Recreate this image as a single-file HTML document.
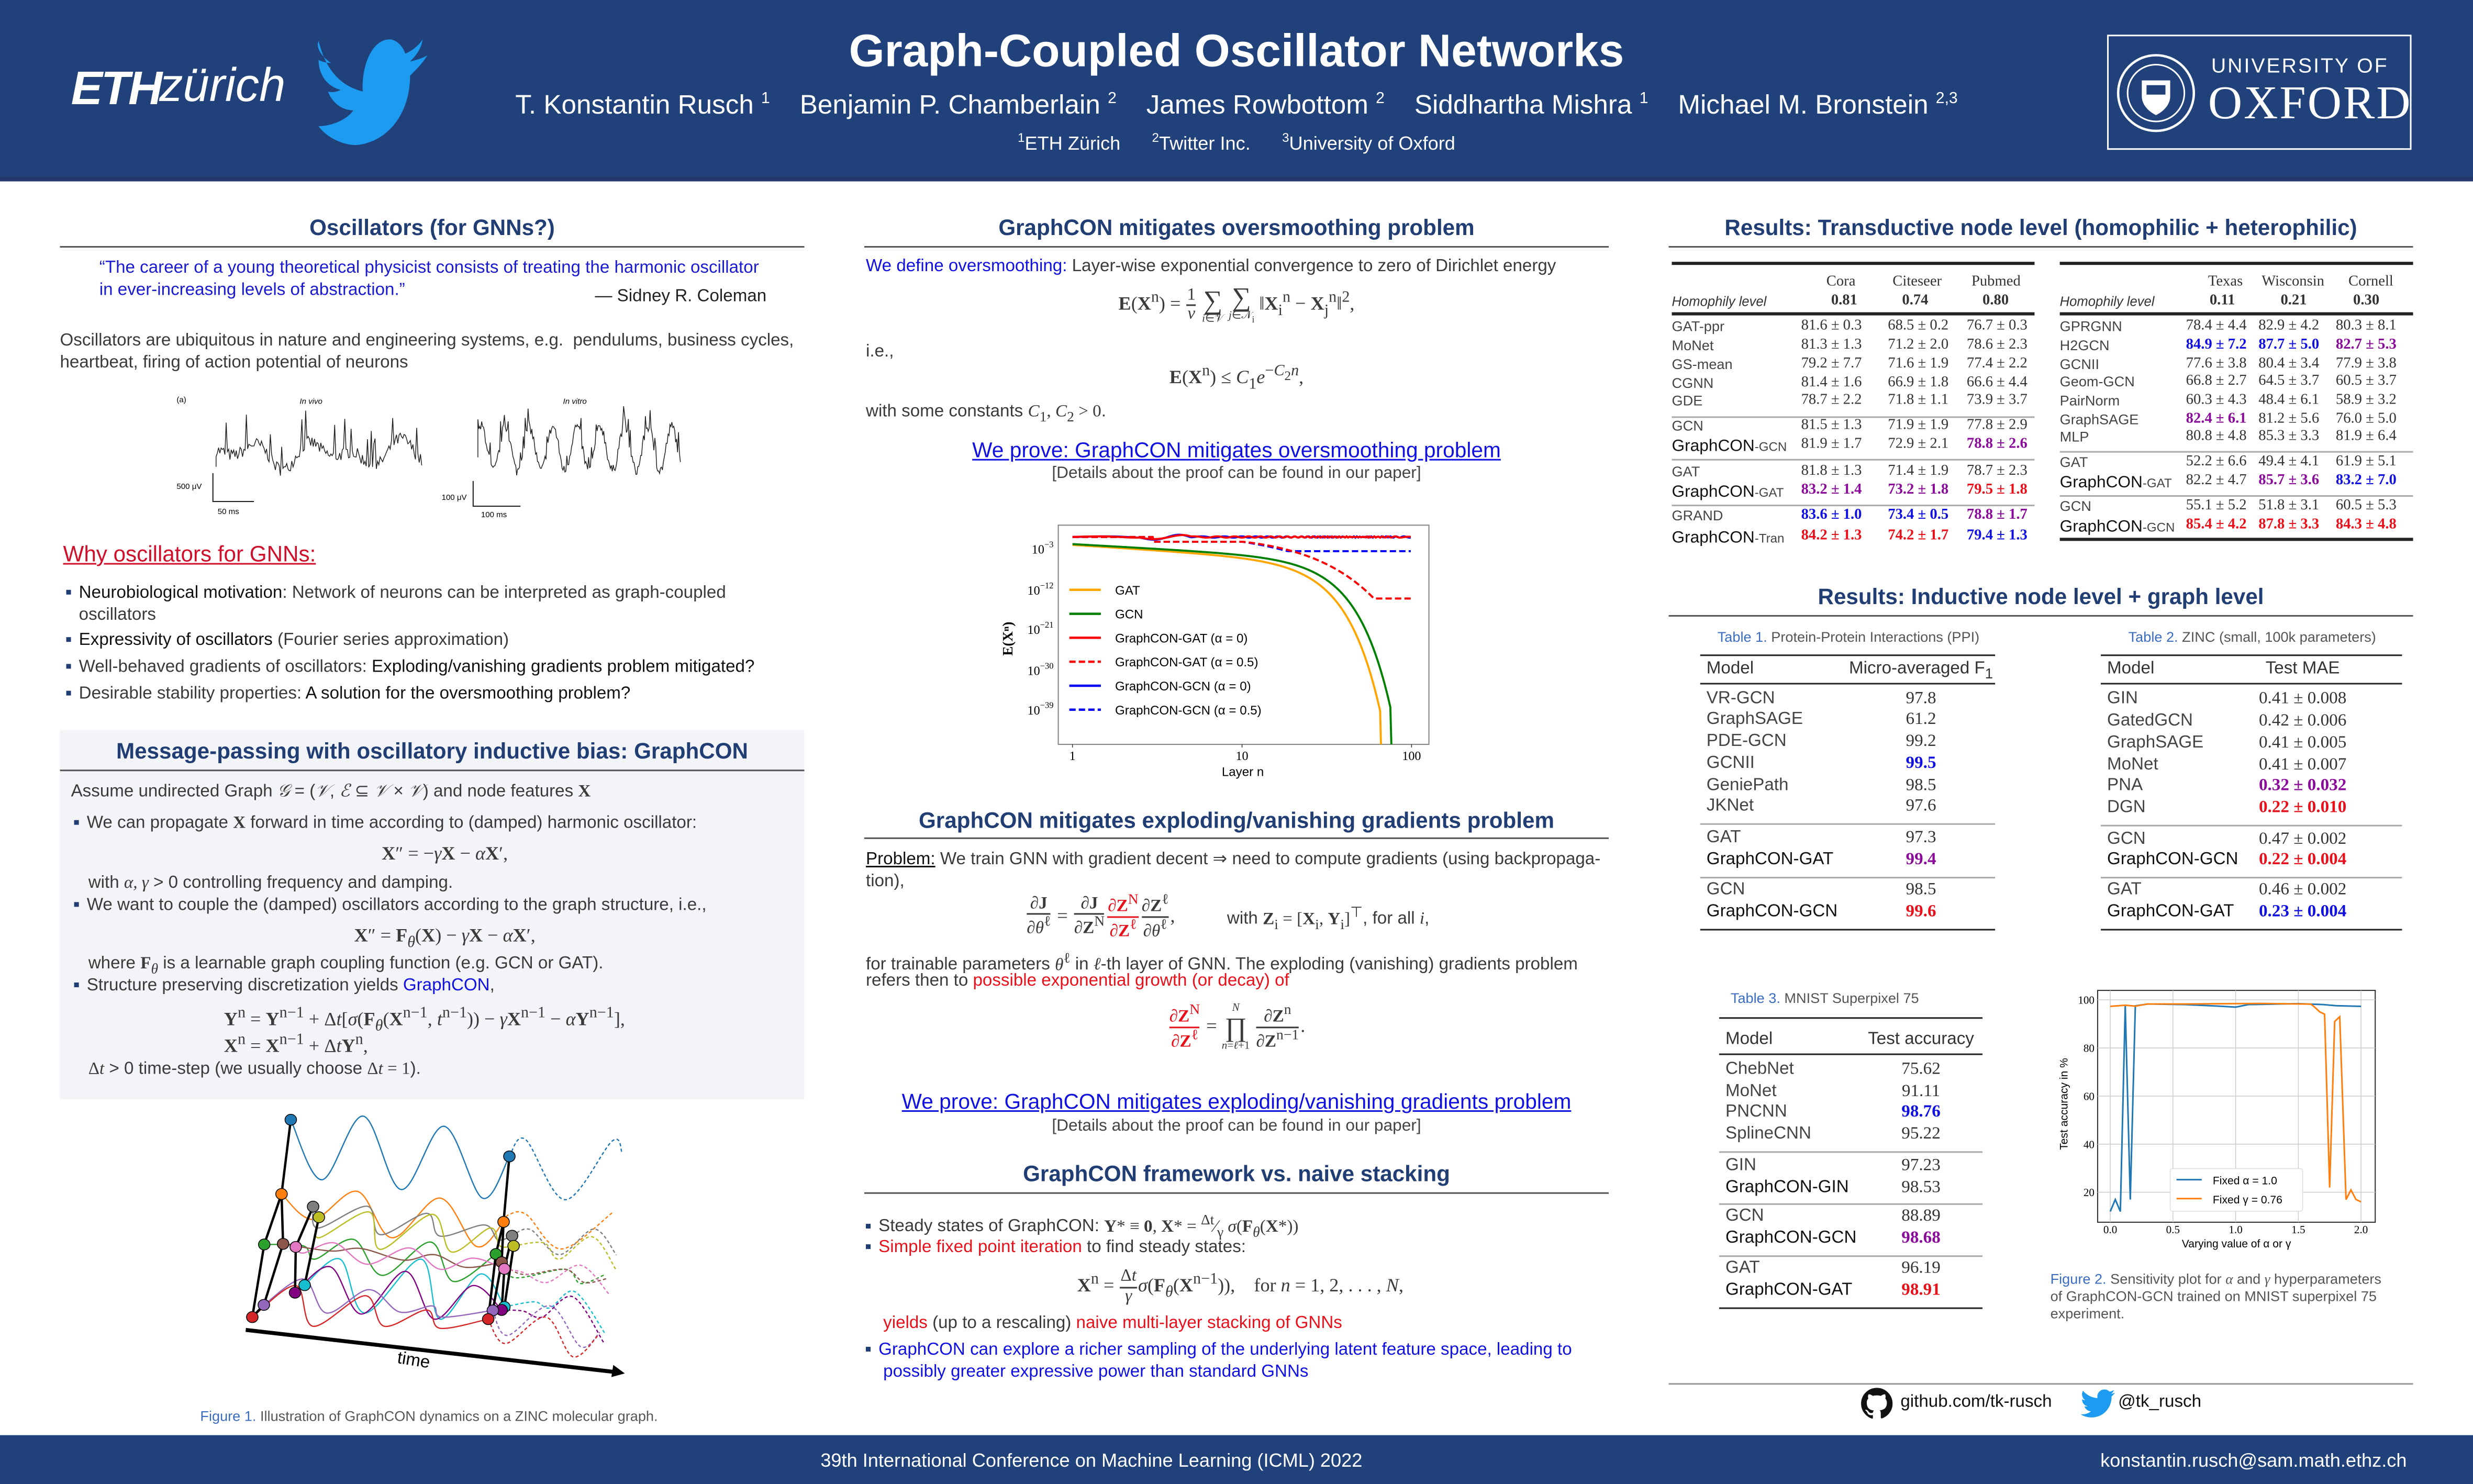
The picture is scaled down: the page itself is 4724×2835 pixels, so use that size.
<!DOCTYPE html>
<html><head><meta charset="utf-8">
<style>
html,body{margin:0;padding:0;background:#fff;}
body{width:4724px;height:2835px;overflow:hidden;position:relative;}
#p{position:absolute;left:0;top:0;width:1568px;height:941px;transform:scale(3.01276,3.0128);transform-origin:0 0;font-family:"Liberation Sans",sans-serif;color:#3a3a3a;}
.t{position:absolute;white-space:nowrap;line-height:1;}
.c{transform:translateX(-50%);}
.r{transform:translateX(-100%);}
.h{font-weight:bold;font-size:14px;color:#203d74;}
.ln{position:absolute;height:1px;background:#555;}
.b{font-size:11px;}
.s{font-family:"Liberation Serif",serif;}
.bl{color:#1010e0;}
.rd{color:#e8101a;}
.bx{font-weight:bold;font-family:"Liberation Serif",serif;}
.tb{position:absolute;font-family:"Liberation Serif",serif;font-size:9.5px;color:#333;}
.tb div{position:absolute;white-space:nowrap;line-height:1;}
.rule{position:absolute;background:#222;height:1.5px;}
.grule{position:absolute;background:#aaa;height:0.8px;}
.sq{display:inline-block;width:3px;height:3px;background:#203d74;margin-right:5px;vertical-align:2px;}
.fr{display:inline-flex;flex-direction:column;vertical-align:middle;text-align:center;line-height:1.05;font-size:11px;margin:0 1px;}
.fr>span+span{border-top:0.8px solid currentColor;}
.big{font-size:17px;vertical-align:middle;}
.st{display:inline-flex;flex-direction:column;vertical-align:middle;text-align:center;line-height:1;}
.st small{font-size:7px;}
</style></head><body>
<div id="p">
<div style="position:absolute;left:0;top:0;width:1568px;height:115px;background:#21417a;"></div>
<div style="position:absolute;left:0;top:112px;width:1568px;height:3px;background:#26386e;"></div>
<div class="t" style="left:45px;top:42px;font-size:30px;font-weight:bold;font-style:italic;color:#fff;letter-spacing:-1px;">ETH</div>
<div class="t" style="left:101px;top:40px;font-size:30px;font-style:italic;color:#fff;">zürich</div>
<svg style="position:absolute;left:196px;top:22px" width="86" height="70" viewBox="0 0 86 70"><path fill="#1d9bf0" d="M6 4 C10 20 18 32 34 36 C33 20 40 2 52 3 C57 4 60 9 61 12 C66 10 70 6 72 3 C71 9 68 13 64 17 C68 16 72 15 75 13 C72 18 68 22 64 26 C64 50 50 68 30 70 C20 70 10 64 6 58 C14 58 24 54 28 48 C20 48 14 42 12 36 C15 37 18 36 20 35 C12 33 6 26 6 16 C8 17 11 18 14 18 C8 14 4 8 6 4Z"/></svg>
<div class="t c" style="left:784px;top:19px;font-size:29px;font-weight:bold;color:#fff;">Graph-Coupled Oscillator Networks</div>
<div class="t c" style="left:784px;top:58px;font-size:17px;color:#fff;">T. Konstantin Rusch <sup style="font-size:10px">1</sup>&nbsp;&nbsp;&nbsp;&nbsp;Benjamin P. Chamberlain <sup style="font-size:10px">2</sup>&nbsp;&nbsp;&nbsp;&nbsp;James Rowbottom <sup style="font-size:10px">2</sup>&nbsp;&nbsp;&nbsp;&nbsp;Siddhartha Mishra <sup style="font-size:10px">1</sup>&nbsp;&nbsp;&nbsp;&nbsp;Michael M. Bronstein <sup style="font-size:10px">2,3</sup></div>
<div class="t c" style="left:784px;top:84px;font-size:12px;color:#fff;"><sup style="font-size:8px">1</sup>ETH Zürich&nbsp;&nbsp;&nbsp;&nbsp;&nbsp;&nbsp;<sup style="font-size:8px">2</sup>Twitter Inc.&nbsp;&nbsp;&nbsp;&nbsp;&nbsp;&nbsp;<sup style="font-size:8px">3</sup>University of Oxford</div>
<div style="position:absolute;left:1336px;top:22px;width:193px;height:73px;border:1px solid #fff;box-sizing:border-box;"></div>
<svg style="position:absolute;left:1341px;top:33px" width="52" height="52" viewBox="0 0 52 52"><circle cx="26" cy="26" r="24" fill="none" stroke="#fff" stroke-width="1.5"/><circle cx="26" cy="26" r="18" fill="none" stroke="#fff" stroke-width="1"/><path d="M17 18h18v10c0 8-9 12-9 12s-9-4-9-12z" fill="#fff"/><rect x="20" y="21" width="12" height="6" fill="#21417a"/></svg>
<div class="t" style="left:1402px;top:35px;font-size:13px;color:#fff;letter-spacing:1px;">UNIVERSITY OF</div>
<div class="t" style="left:1400px;top:51px;font-size:30px;color:#fff;font-family:'Liberation Serif',serif;letter-spacing:1px;">OXFORD</div>
<div style="position:absolute;left:0;top:910px;width:1568px;height:31px;background:#21417a;"></div>
<div class="t c" style="left:692px;top:920px;font-size:12px;color:#fff;">39th International Conference on Machine Learning (ICML) 2022</div>
<div class="t r" style="left:1526px;top:920px;font-size:12px;color:#fff;">konstantin.rusch@sam.math.ethz.ch</div>

<!-- COLUMN 1 -->
<div class="t h c" style="left:274px;top:137px;">Oscillators (for GNNs?)</div>
<div class="ln" style="left:38px;top:156px;width:472px;"></div>
<div class="t" style="left:63px;top:165px;font-size:11px;color:#1a1ad0;">“The career of a young theoretical physicist consists of treating the harmonic oscillator</div>
<div class="t" style="left:63px;top:179px;font-size:11px;color:#1a1ad0;">in ever-increasing levels of abstraction.”</div>
<div class="t r" style="left:486px;top:183px;font-size:11px;color:#222;">— Sidney R. Coleman</div>
<div class="t b" style="left:38px;top:211px;">Oscillators are ubiquitous in nature and engineering systems, e.g.&nbsp; pendulums, business cycles,</div>
<div class="t b" style="left:38px;top:225px;">heartbeat, firing of action potential of neurons</div>
<svg id="neur" style="position:absolute;left:100px;top:245px" width="340" height="90" viewBox="100 245 340 90"></svg>
<div class="t" style="left:40px;top:344px;font-size:14px;color:#d0102a;text-decoration:underline;">Why oscillators for GNNs:</div>
<div class="t b" style="left:42px;top:371px;"><span class="sq"></span><span style="color:#111">Neurobiological motivation</span>: Network of neurons can be interpreted as graph-coupled</div>
<div class="t b" style="left:50px;top:385px;">oscillators</div>
<div class="t b" style="left:42px;top:401px;"><span class="sq"></span><span style="color:#111">Expressivity of oscillators</span> (Fourier series approximation)</div>
<div class="t b" style="left:42px;top:418px;"><span class="sq"></span>Well-behaved gradients of oscillators: <span style="color:#111">Exploding/vanishing gradients problem mitigated?</span></div>
<div class="t b" style="left:42px;top:435px;"><span class="sq"></span>Desirable stability properties: <span style="color:#111">A solution for the oversmoothing problem?</span></div>

<div style="position:absolute;left:38px;top:463px;width:472px;height:234px;background:#f3f4f8;"></div>
<div class="t h c" style="left:274px;top:469px;">Message-passing with oscillatory inductive bias: GraphCON</div>
<div class="ln" style="left:38px;top:488px;width:472px;"></div>
<div class="t b" style="left:45px;top:497px;">Assume undirected Graph <i class="s">𝒢</i> = (<i class="s">𝒱</i>, <i class="s">ℰ</i> ⊆ <i class="s">𝒱</i> × <i class="s">𝒱</i>) and node features <b class="bx">X</b></div>
<div class="t b" style="left:47px;top:517px;"><span class="sq"></span>We can propagate <b class="bx">X</b> forward in time according to (damped) harmonic oscillator:</div>
<div class="t c s" style="left:282px;top:535px;font-size:12px;"><b>X</b>″ = −<i>γ</i><b>X</b> − <i>α</i><b>X</b>′,</div>
<div class="t b" style="left:56px;top:555px;">with <i class="s">α, γ</i> &gt; 0 controlling frequency and damping.</div>
<div class="t b" style="left:47px;top:569px;"><span class="sq"></span>We want to couple the (damped) oscillators according to the graph structure, i.e.,</div>
<div class="t c s" style="left:282px;top:587px;font-size:12px;"><b>X</b>″ = <b>F</b><sub><i>θ</i></sub>(<b>X</b>) − <i>γ</i><b>X</b> − <i>α</i><b>X</b>′,</div>
<div class="t b" style="left:56px;top:606px;">where <b class="bx">F</b><sub class="s"><i>θ</i></sub> is a learnable graph coupling function (e.g. GCN or GAT).</div>
<div class="t b" style="left:47px;top:620px;"><span class="sq"></span>Structure preserving discretization yields <span class="bl">GraphCON</span>,</div>
<div class="t s" style="left:142px;top:638px;font-size:12px;"><b>Y</b><sup>n</sup> = <b>Y</b><sup>n−1</sup> + Δ<i>t</i>[<i>σ</i>(<b>F</b><sub><i>θ</i></sub>(<b>X</b><sup>n−1</sup>, <i>t</i><sup>n−1</sup>)) − <i>γ</i><b>X</b><sup>n−1</sup> − <i>α</i><b>Y</b><sup>n−1</sup>],</div>
<div class="t s" style="left:142px;top:655px;font-size:12px;"><b>X</b><sup>n</sup> = <b>X</b><sup>n−1</sup> + Δ<i>t</i><b>Y</b><sup>n</sup>,</div>
<div class="t b" style="left:56px;top:673px;"><span class="s">Δ<i>t</i></span> &gt; 0 time-step (we usually choose <span class="s">Δ<i>t</i> = 1</span>).</div>
<svg id="fig1" style="position:absolute;left:0;top:0" width="520" height="900" viewBox="0 0 520 900"></svg>
<div class="t c" style="left:272px;top:894px;font-size:9px;color:#555;"><span style="color:#3a6cc0">Figure 1.</span> Illustration of GraphCON dynamics on a ZINC molecular graph.</div>

<!-- COLUMN 2 -->
<div class="t h c" style="left:784px;top:137px;">GraphCON mitigates oversmoothing problem</div>
<div class="ln" style="left:548px;top:156px;width:472px;"></div>
<div class="t b" style="left:549px;top:164px;"><span class="bl">We define oversmoothing:</span> Layer-wise exponential convergence to zero of Dirichlet energy</div>
<div class="t c s" style="left:784px;top:180px;font-size:12px;line-height:1;"><b>E</b>(<b>X</b><sup>n</sup>) = <span class="fr"><span>1</span><span><i>v</i></span></span> <span class="st"><span class="big">∑</span><small><i>i</i>∈𝒱</small></span> <span class="st"><span class="big">∑</span><small><i>j</i>∈𝒩<sub>i</sub></small></span> ‖<b>X</b><sub>i</sub><sup>n</sup> − <b>X</b><sub>j</sub><sup>n</sup>‖<sup>2</sup>,</div>
<div class="t b" style="left:549px;top:218px;">i.e.,</div>
<div class="t c s" style="left:784px;top:231px;font-size:12px;"><b>E</b>(<b>X</b><sup>n</sup>) ≤ <i>C</i><sub>1</sub><i>e</i><sup>−<i>C</i><sub>2</sub><i>n</i></sup>,</div>
<div class="t b" style="left:549px;top:256px;">with some constants <span class="s"><i>C</i><sub>1</sub>, <i>C</i><sub>2</sub> &gt; 0</span>.</div>
<div class="t c" style="left:784px;top:279px;font-size:13.5px;color:#1010e0;text-decoration:underline;">We prove: GraphCON mitigates oversmoothing problem</div>
<div class="t c" style="left:784px;top:295px;font-size:10.5px;color:#444;">[Details about the proof can be found in our paper]</div>
<svg id="fig2" style="position:absolute;left:600px;top:320px" width="330" height="180" viewBox="600 320 330 180"></svg>

<div class="t h c" style="left:784px;top:513px;">GraphCON mitigates exploding/vanishing gradients problem</div>
<div class="ln" style="left:548px;top:531px;width:472px;"></div>
<div class="t b" style="left:549px;top:540px;"><span style="color:#111;text-decoration:underline">Problem:</span> We train GNN with gradient decent ⇒ need to compute gradients (using backpropaga-</div>
<div class="t b" style="left:549px;top:554px;">tion),</div>
<div class="t s" style="left:650px;top:566px;font-size:12px;"><span class="fr"><span>∂<b>J</b></span><span>∂<i>θ</i><sup>ℓ</sup></span></span> = <span class="fr"><span>∂<b>J</b></span><span>∂<b>Z</b><sup>N</sup></span></span><span class="fr rd"><span>∂<b>Z</b><sup>N</sup></span><span>∂<b>Z</b><sup>ℓ</sup></span></span><span class="fr"><span>∂<b>Z</b><sup>ℓ</sup></span><span>∂<i>θ</i><sup>ℓ</sup></span></span>,</div>
<div class="t b" style="left:778px;top:574px;">with <span class="s"><b>Z</b><sub>i</sub> = [<b>X</b><sub>i</sub>, <b>Y</b><sub>i</sub>]<sup>⊤</sup></span>, for all <i class="s">i</i>,</div>
<div class="t b" style="left:549px;top:603px;">for trainable parameters <span class="s"><i>θ</i><sup>ℓ</sup></span> in <span class="s"><i>ℓ</i></span>-th layer of GNN. The exploding (vanishing) gradients problem</div>
<div class="t b" style="left:549px;top:617px;">refers then to <span class="rd">possible exponential growth (or decay) of</span></div>
<div class="t c s" style="left:784px;top:636px;font-size:12px;"><span class="fr rd"><span>∂<b>Z</b><sup>N</sup></span><span>∂<b>Z</b><sup>ℓ</sup></span></span> = <span class="st"><small><i>N</i></small><span class="big">∏</span><small><i>n</i>=<i>ℓ</i>+1</small></span> <span class="fr"><span>∂<b>Z</b><sup>n</sup></span><span>∂<b>Z</b><sup>n−1</sup></span></span>.</div>
<div class="t c" style="left:784px;top:692px;font-size:13.5px;color:#1010e0;text-decoration:underline;">We prove: GraphCON mitigates exploding/vanishing gradients problem</div>
<div class="t c" style="left:784px;top:709px;font-size:10.5px;color:#444;">[Details about the proof can be found in our paper]</div>
<div class="t h c" style="left:784px;top:737px;">GraphCON framework vs. naive stacking</div>
<div class="ln" style="left:548px;top:756px;width:472px;"></div>
<div class="t b" style="left:549px;top:769px;"><span class="sq"></span>Steady states of GraphCON: <span class="s"><b>Y</b>* ≡ <b>0</b>, <b>X</b>* = <sup>Δt</sup>⁄<sub>γ</sub> <i>σ</i>(<b>F</b><sub><i>θ</i></sub>(<b>X</b>*))</span></div>
<div class="t b" style="left:549px;top:786px;"><span class="sq"></span><span class="rd">Simple fixed point iteration</span> to find steady states:</div>
<div class="t s" style="left:683px;top:804px;font-size:12px;"><b>X</b><sup>n</sup> = <span class="fr"><span>Δ<i>t</i></span><span><i>γ</i></span></span><i>σ</i>(<b>F</b><sub><i>θ</i></sub>(<b>X</b><sup>n−1</sup>)),&nbsp;&nbsp;&nbsp;&nbsp;for <i>n</i> = 1, 2, . . . , <i>N</i>,</div>
<div class="t b" style="left:560px;top:834px;"><span class="rd">yields</span> (up to a rescaling) <span class="rd">naive multi-layer stacking of GNNs</span></div>
<div class="t b" style="left:549px;top:851px;color:#1010e0;"><span class="sq"></span>GraphCON can explore a richer sampling of the underlying latent feature space, leading to</div>
<div class="t b" style="left:560px;top:865px;color:#1010e0;">possibly greater expressive power than standard GNNs</div>

<!-- COLUMN 3 -->
<div class="t h c" style="left:1294px;top:137px;">Results: Transductive node level (homophilic + heterophilic)</div>
<div class="ln" style="left:1058px;top:156px;width:472px;"></div>

<div class="tb" style="left:1060px;top:0;width:230px;">
<div class="rule" style="left:0;top:166px;width:230px;"></div>
<div style="left:98px;top:175px;">Cora</div><div style="left:140px;top:175px;">Citeseer</div><div style="left:190px;top:175px;">Pubmed</div>
<div style="left:0;top:187px;font-family:'Liberation Sans';font-style:italic;font-size:8.5px;">Homophily level</div>
<div style="left:101px;top:187px;font-weight:bold">0.81</div><div style="left:146px;top:187px;font-weight:bold">0.74</div><div style="left:197px;top:187px;font-weight:bold">0.80</div>
<div class="rule" style="left:0;top:198px;width:230px;"></div>
<div id="t1" style="left:0;top:0"></div>
</div>
<div class="tb" style="left:1306px;top:0;width:224px;">
<div class="rule" style="left:0;top:166px;width:224px;"></div>
<div style="left:94px;top:175px;">Texas</div><div style="left:128px;top:175px;">Wisconsin</div><div style="left:183px;top:175px;">Cornell</div>
<div style="left:0;top:187px;font-family:'Liberation Sans';font-style:italic;font-size:8.5px;">Homophily level</div>
<div style="left:95px;top:187px;font-weight:bold">0.11</div><div style="left:140px;top:187px;font-weight:bold">0.21</div><div style="left:186px;top:187px;font-weight:bold">0.30</div>
<div class="rule" style="left:0;top:198px;width:224px;"></div>
<div class="rule" style="left:0;top:341px;width:224px;"></div>
<div id="t2" style="left:0;top:0"></div>
</div>

<div class="t h c" style="left:1294px;top:371px;">Results: Inductive node level + graph level</div>
<div class="ln" style="left:1058px;top:390px;width:472px;"></div>
<div class="t c" style="left:1172px;top:400px;font-size:9px;color:#555;"><span style="color:#3a6cc0">Table 1.</span> Protein-Protein Interactions (PPI)</div>
<div class="t c" style="left:1428px;top:400px;font-size:9px;color:#555;"><span style="color:#3a6cc0">Table 2.</span> ZINC (small, 100k parameters)</div>
<div class="t c" style="left:1157px;top:629px;font-size:9px;color:#555;"><span style="color:#3a6cc0">Table 3.</span> MNIST Superpixel 75</div>
<div id="t3"></div>
<svg id="fig3" style="position:absolute;left:1290px;top:620px" width="230" height="180" viewBox="1290 620 230 180"></svg>
<div class="t" style="left:1300px;top:807px;font-size:9px;color:#555;"><span style="color:#3a6cc0">Figure 2.</span> Sensitivity plot for <i class="s">α</i> and <i class="s">γ</i> hyperparameters</div>
<div class="t" style="left:1300px;top:818px;font-size:9px;color:#555;">of GraphCON-GCN trained on MNIST superpixel 75</div>
<div class="t" style="left:1300px;top:829px;font-size:9px;color:#555;">experiment.</div>
<div class="ln" style="left:1058px;top:877px;width:472px;background:#999;"></div>
<svg style="position:absolute;left:1180px;top:880px" width="20" height="20" viewBox="0 0 16 16"><path fill="#111" d="M8 0C3.6 0 0 3.6 0 8c0 3.5 2.3 6.5 5.5 7.6.4.1.5-.2.5-.4v-1.4c-2.2.5-2.7-1-2.7-1-.4-.9-.9-1.2-.9-1.2-.7-.5.1-.5.1-.5.8.1 1.2.8 1.2.8.7 1.2 1.9.9 2.3.7.1-.5.3-.9.5-1.100-1.8-.2-3.6-.9-3.6-4 0-.9.3-1.6.8-2.1-.1-.2-.4-1 .1-2.1 0 0 .7-.2 2.2.8.6-.2 1.3-.3 2-.3s1.4.1 2 .3c1.5-1 2.2-.8 2.2-.8.4 1.1.2 1.9.1 2.1.5.6.8 1.3.8 2.1 0 3.1-1.9 3.7-3.6 3.9.3.3.5.8.5 1.5v2.2c0 .2.1.5.6.4C13.7 14.5 16 11.5 16 8c0-4.4-3.6-8-8-8z"/></svg>
<div class="t" style="left:1205px;top:884px;font-size:11px;color:#111;">github.com/tk-rusch</div>
<svg style="position:absolute;left:1319px;top:881px" width="22" height="18" viewBox="0 0 86 70"><path fill="#1d9bf0" d="M86 8c-3 1.4-6.5 2.3-10 2.8 3.6-2.2 6.3-5.6 7.6-9.6-3.4 2-7.1 3.4-11.1 4.2-3.2-3.4-7.7-5.5-12.7-5.5-9.6 0-17.5 7.8-17.5 17.5 0 1.4.2 2.7.5 4C28.3 20.6 15.4 13.6 6.8 3.2 5.3 5.8 4.4 8.8 4.4 12c0 6.1 3.1 11.4 7.8 14.6-2.9-.1-5.6-.9-7.9-2.2v.2c0 8.5 6 15.5 14 17.1-1.5.4-3 .6-4.6.6-1.1 0-2.2-.1-3.3-.3 2.2 7 8.7 12 16.3 12.1-6 4.7-13.6 7.5-21.8 7.5-1.4 0-2.8-.1-4.2-.2 7.7 5 17 7.9 26.9 7.9 32.3 0 49.9-26.7 49.9-49.9v-2.3C80.7 14.6 83.6 11.5 86 8z"/></svg>
<div class="t" style="left:1343px;top:884px;font-size:11px;color:#111;">@tk_rusch</div>
</div>

<script>
var NS="http://www.w3.org/2000/svg";
function el(svg,tag,attrs,txt){var e=document.createElementNS(NS,tag);for(var k in attrs)e.setAttribute(k,attrs[k]);if(txt!=null)e.textContent=txt;svg.appendChild(e);return e;}
function cr(pts){var d="M"+pts[0][0]+" "+pts[0][1];for(var i=0;i<pts.length-1;i++){var p0=pts[i-1]||pts[i],p1=pts[i],p2=pts[i+1],p3=pts[i+2]||p2;d+=" C"+(p1[0]+(p2[0]-p0[0])/6)+" "+(p1[1]+(p2[1]-p0[1])/6)+" "+(p2[0]-(p3[0]-p1[0])/6)+" "+(p2[1]-(p3[1]-p1[1])/6)+" "+p2[0]+" "+p2[1];}return d;}
function tab(id,x0,cols,rows){var h="";rows.forEach(function(r){h+='<div style="left:0;top:'+(r[0]-5)+'px;'+(r[4]?'font-family:Liberation Sans;font-size:10.5px;color:#111':'font-family:Liberation Sans;font-size:9px;color:#444')+'">'+(r[4]?'GraphCON<span style="font-size:8px;color:#444">-'+r[1].split("-")[1]+'</span>':r[1])+'</div>';for(var i=0;i<3;i++){var v=r[2][i],c=r[3]?r[3][i]:0;var col=c==1?'#1010e0':c==2?'#e8101a':c==3?'#8a0a9a':'#333';h+='<div style="left:'+cols[i]+'px;top:'+(r[0]-5)+'px;color:'+col+(c?';font-weight:bold':'')+'">'+v+'</div>';}});document.getElementById(id).innerHTML=h;}
tab("t1",0,[82,137,187],[
[208,"GAT-ppr",["81.6 ± 0.3","68.5 ± 0.2","76.7 ± 0.3"]],
[220,"MoNet",["81.3 ± 1.3","71.2 ± 2.0","78.6 ± 2.3"]],
[232,"GS-mean",["79.2 ± 7.7","71.6 ± 1.9","77.4 ± 2.2"]],
[244,"CGNN",["81.4 ± 1.6","66.9 ± 1.8","66.6 ± 4.4"]],
[255,"GDE",["78.7 ± 2.2","71.8 ± 1.1","73.9 ± 3.7"]],
[271,"GCN",["81.5 ± 1.3","71.9 ± 1.9","77.8 ± 2.9"]],
[283,"GraphCON-GCN",["81.9 ± 1.7","72.9 ± 2.1","78.8 ± 2.6"],[0,0,3],1],
[300,"GAT",["81.8 ± 1.3","71.4 ± 1.9","78.7 ± 2.3"]],
[312,"GraphCON-GAT",["83.2 ± 1.4","73.2 ± 1.8","79.5 ± 1.8"],[3,3,2],1],
[328,"GRAND",["83.6 ± 1.0","73.4 ± 0.5","78.8 ± 1.7"],[1,1,3]],
[341,"GraphCON-Tran",["84.2 ± 1.3","74.2 ± 1.7","79.4 ± 1.3"],[2,2,1],1]]);
tab("t2",0,[80,126,175],[
[208,"GPRGNN",["78.4 ± 4.4","82.9 ± 4.2","80.3 ± 8.1"]],
[220,"H2GCN",["84.9 ± 7.2","87.7 ± 5.0","82.7 ± 5.3"],[1,1,3]],
[232,"GCNII",["77.6 ± 3.8","80.4 ± 3.4","77.9 ± 3.8"]],
[243,"Geom-GCN",["66.8 ± 2.7","64.5 ± 3.7","60.5 ± 3.7"]],
[255,"PairNorm",["60.3 ± 4.3","48.4 ± 6.1","58.9 ± 3.2"]],
[267,"GraphSAGE",["82.4 ± 6.1","81.2 ± 5.6","76.0 ± 5.0"],[3,0,0]],
[278,"MLP",["80.8 ± 4.8","85.3 ± 3.3","81.9 ± 6.4"]],
[294,"GAT",["52.2 ± 6.6","49.4 ± 4.1","61.9 ± 5.1"]],
[306,"GraphCON-GAT",["82.2 ± 4.7","85.7 ± 3.6","83.2 ± 7.0"],[0,3,1],1],
[322,"GCN",["55.1 ± 5.2","51.8 ± 3.1","60.5 ± 5.3"]],
[334,"GraphCON-GCN",["85.4 ± 4.2","87.8 ± 3.3","84.3 ± 4.8"],[2,2,2],1]]);
(function(){var p=document.getElementById("t1").parentNode;[264,291,320].forEach(function(y){var d=document.createElement("div");d.className="grule";d.style.cssText="left:0;top:"+y+"px;width:230px";p.appendChild(d);});
var q=document.getElementById("t2").parentNode;[286,314].forEach(function(y){var d=document.createElement("div");d.className="grule";d.style.cssText="left:0;top:"+y+"px;width:224px";q.appendChild(d);});})();
function st(x,w,vx,h1,h2,top,hy,rows,mid,bot){var s='<div class="rule" style="left:'+x+'px;top:'+top+'px;width:'+w+'px;height:1px"></div>';
s+='<div class="t" style="left:'+(x+4)+'px;top:'+(hy-5)+'px;font-size:11px;color:#333">'+h1+'</div><div class="t c" style="left:'+vx+'px;top:'+(hy-5)+'px;font-size:11px;color:#333">'+h2+'</div>';
s+='<div class="rule" style="left:'+x+'px;top:'+(hy+9)+'px;width:'+w+'px;height:1px"></div>';
rows.forEach(function(r){var c=r[2]==1?'#1010e0':r[2]==2?'#e8101a':r[2]==3?'#8a0a9a':'#333';s+='<div class="t" style="left:'+(x+4)+'px;top:'+(r[0]-6)+'px;font-size:11px;color:'+(r[1].indexOf("GraphCON")==0?'#111':'#444')+'">'+r[1]+'</div><div class="t c" style="left:'+vx+'px;top:'+(r[0]-6)+'px;font-size:11px;font-family:Liberation Serif;color:'+c+(r[2]?';font-weight:bold':'')+'">'+r[3]+'</div>';});
mid.forEach(function(y){s+='<div class="grule" style="left:'+x+'px;top:'+y+'px;width:'+w+'px"></div>';});
s+='<div class="rule" style="left:'+x+'px;top:'+bot+'px;width:'+w+'px;height:1px"></div>';return s;}
var h="";
h+=st(1078,187,1218,"Model","Micro-averaged F<sub>1</sub>",415,424,[[444,"VR-GCN",0,"97.8"],[457,"GraphSAGE",0,"61.2"],[471,"PDE-GCN",0,"99.2"],[485,"GCNII",1,"99.5"],[499,"GeniePath",0,"98.5"],[512,"JKNet",0,"97.6"],[532,"GAT",0,"97.3"],[546,"GraphCON-GAT",3,"99.4"],[565,"GCN",0,"98.5"],[579,"GraphCON-GCN",2,"99.6"]],[522,556],589);
h+=st(1332,191,1460,"Model","Test MAE",415,424,[[444,"GIN",0,"0.41 ± 0.008"],[458,"GatedGCN",0,"0.42 ± 0.006"],[472,"GraphSAGE",0,"0.41 ± 0.005"],[486,"MoNet",0,"0.41 ± 0.007"],[499,"PNA",3,"0.32 ± 0.032"],[513,"DGN",2,"0.22 ± 0.010"],[533,"GCN",0,"0.47 ± 0.002"],[546,"GraphCON-GCN",2,"0.22 ± 0.004"],[565,"GAT",0,"0.46 ± 0.002"],[579,"GraphCON-GAT",1,"0.23 ± 0.004"]],[523,556],589);
h+=st(1090,167,1218,"Model","Test accuracy",645,659,[[679,"ChebNet",0,"75.62"],[693,"MoNet",0,"91.11"],[706,"PNCNN",1,"98.76"],[720,"SplineCNN",0,"95.22"],[740,"GIN",0,"97.23"],[754,"GraphCON-GIN",0,"98.53"],[772,"GCN",0,"88.89"],[786,"GraphCON-GCN",3,"98.68"],[805,"GAT",0,"96.19"],[819,"GraphCON-GAT",2,"98.91"]],[730,763,796],829);
document.getElementById("t3").innerHTML=h;

(function(){var s=document.getElementById("neur");var seed=7;function rnd(){seed=(seed*16807)%2147483647;return seed/2147483647;}
el(s,"text",{x:112,y:255,"font-size":5,"font-family":"Liberation Sans"},"(a)");
el(s,"text",{x:190,y:256,"font-size":5,"font-style":"italic","font-family":"Liberation Sans"},"In vivo");
el(s,"text",{x:357,y:256,"font-size":5,"font-style":"italic","font-family":"Liberation Sans"},"In vitro");
var d="M137 296";for(var x=137;x<268;x+=0.8){var y=292-10*Math.sin(x/6)*Math.sin(x/23)-rnd()*8;if(rnd()<0.1)y-=18;d+=" L"+x+" "+y.toFixed(1);}
el(s,"path",{d:d,fill:"none",stroke:"#222","stroke-width":0.5});
d="M303 290";for(var x=303;x<432;x+=0.6){var y=288-14*Math.sin(x/2.4)-rnd()*7;if(rnd()<0.1)y-=10;d+=" L"+x+" "+y.toFixed(1);}
el(s,"path",{d:d,fill:"none",stroke:"#222","stroke-width":0.5});
el(s,"path",{d:"M135 300v18h26",fill:"none",stroke:"#222","stroke-width":0.7});
el(s,"path",{d:"M300 305v16h30",fill:"none",stroke:"#222","stroke-width":0.7});
el(s,"text",{x:112,y:310,"font-size":5,"font-family":"Liberation Sans"},"500 μV");
el(s,"text",{x:138,y:326,"font-size":5,"font-family":"Liberation Sans"},"50 ms");
el(s,"text",{x:280,y:317,"font-size":5,"font-family":"Liberation Sans"},"100 μV");
el(s,"text",{x:305,y:328,"font-size":5,"font-family":"Liberation Sans"},"100 ms");
})();

(function(){var s=document.getElementById("fig1");var g=el(s,"g",{transform:"matrix(0.244,0,0,0.129,38.7,681)"});
function L(pts,c,dash){var a={d:cr(pts),fill:"none",stroke:c,"stroke-width":0.8,"vector-effect":"non-scaling-stroke"};if(dash)a["stroke-dasharray"]="2,1.5";el(g,"path",a);}
var C={b:"#1f77b4",o:"#ff7f0e",g:"#2ca02c",r:"#d62728",l:"#9467bd",br:"#8c564b",p:"#e377c2",gy:"#7f7f7f",ol:"#bcbd22",c:"#17becf",dp:"#800080"};
var W=[["b",[[597,225],[678,520],[785,207],[884,568],[995,257],[1095,610],[1165,405]],[[1165,405],[1207,322],[1310,618],[1432,330],[1458,390]]],
["o",[[573,590],[655,715],[770,577],[860,805],[985,610],[1080,848],[1150,727]],[[1150,727],[1165,690],[1210,692],[1300,860],[1432,683]]],
["gy",[[655,652],[668,757],[795,650],[830,790],[950,685],[985,797],[1100,742],[1135,815],[1172,795]],[[1172,795],[1220,765],[1295,888],[1385,762],[1443,890]]],
["ol",[[670,704],[670,805],[800,678],[830,862],[965,690],[1015,875],[1115,757],[1140,845],[1176,845]],[[1176,845],[1255,830],[1295,910],[1380,800],[1443,965]]],
["g",[[528,838],[630,845],[660,910],[760,813],[835,990],[960,826],[1020,1020],[1130,885]],[[1130,885],[1175,1000],[1310,960],[1350,1030],[1415,985]]],
["br",[[577,835],[700,870],[780,858],[890,915],[970,888],[1050,950],[1145,925]],[[1145,925],[1200,985],[1310,960],[1360,1025],[1420,1005]]],
["p",[[610,850],[630,880],[710,830],[795,935],[905,855],[985,960],[1070,905],[1152,958]],[[1152,958],[1200,975],[1262,1025],[1350,940],[1423,1080]]],
["c",[[633,1038],[725,910],[790,1175],[935,910],[985,1205],[1090,983],[1152,1145]],[[1152,1145],[1230,1120],[1270,1150],[1335,1070],[1415,1280]]],
["dp",[[608,1075],[700,948],[780,1180],[895,970],[970,1205],[1070,1040],[1145,1160]],[[1145,1160],[1200,1165],[1250,1195],[1330,1095],[1410,1320]]],
["l",[[527,1135],[630,1008],[690,1175],[800,1060],[880,1170],[965,1140],[990,1195],[1122,1162]],[[1122,1162],[1160,1285],[1270,1140],[1350,1340],[1400,1270]]],
["r",[[497,1195],[610,1040],[655,1240],[790,1090],[840,1240],[950,1160],[985,1250],[1110,1205]],[[1110,1205],[1155,1325],[1260,1195],[1330,1390],[1398,1280]]]];
W.forEach(function(w){L(w[1],C[w[0]]);L(w[2],C[w[0]],1);});
var NL={b:[597,225],o:[573,590],g:[528,838],br:[577,835],p:[610,850],gy:[655,652],ol:[670,704],c:[633,1038],dp:[608,1075],l:[527,1135],r:[497,1195]};
var NR={b:[1165,405],o:[1150,727],gy:[1172,795],ol:[1176,845],g:[1130,885],br:[1145,925],p:[1152,958],c:[1152,1145],dp:[1145,1160],l:[1122,1162],r:[1110,1205]};
var E=[["b","o"],["o","g"],["o","br"],["g","r"],["br","l"],["p","dp"],["gy","p"],["ol","c"],["r","l"]];
[NL,NR].forEach(function(N){E.forEach(function(e){el(g,"line",{x1:N[e[0]][0],y1:N[e[0]][1],x2:N[e[1]][0],y2:N[e[1]][1],stroke:"#000","stroke-width":1.5,"vector-effect":"non-scaling-stroke"});});
for(var k in N)el(g,"ellipse",{cx:N[k][0],cy:N[k][1],rx:15,ry:27,fill:C[k],stroke:"#000","stroke-width":0.5,"vector-effect":"non-scaling-stroke"});});
el(g,"line",{x1:480,y1:1258,x2:1440,y2:1465,stroke:"#000","stroke-width":2.5,"vector-effect":"non-scaling-stroke"});
el(g,"path",{d:"M1435 1430 L1465 1472 L1430 1490Z",fill:"#000"});
el(s,"text",{x:252,y:866,"font-size":11,"font-family":"Liberation Sans",transform:"rotate(9 263 862)"},"time");
})();

(function(){var s=document.getElementById("fig2");
var X=function(n){return 680+107.5*Math.log10(n);};
el(s,"rect",{x:671,y:333,width:235,height:139,fill:"#fff",stroke:"#888","stroke-width":0.7});
var yt=[["−3",348],["−12",374],["−21",399],["−30",425],["−39",450]];
yt.forEach(function(t){var tx=el(s,"text",{x:668,y:t[1]+3,"font-size":8,"font-family":"Liberation Serif","text-anchor":"end"},"10");var ts=document.createElementNS(NS,"tspan");ts.setAttribute("dy","-4");ts.setAttribute("font-size","5.5");ts.textContent=t[0];tx.appendChild(ts);});
[[1,"1"],[10,"10"],[100,"100"]].forEach(function(t){el(s,"text",{x:X(t[0]),y:482,"font-size":8,"font-family":"Liberation Serif","text-anchor":"middle"},t[1]);el(s,"line",{x1:X(t[0]),x2:X(t[0]),y1:472,y2:474,stroke:"#333","stroke-width":0.5});});
el(s,"text",{x:788,y:492,"font-size":8,"font-family":"Liberation Sans","text-anchor":"middle"},"Layer n");
el(s,"text",{x:642,y:405,"font-size":9,"font-family":"Liberation Serif","font-weight":"bold","text-anchor":"middle",transform:"rotate(-90 642 405)"},"E(X\u207F)");
function curve(f,n0,n1){var p=[];for(var n=n0;n<=n1;n*=1.02)p.push([X(n).toFixed(2),f(n).toFixed(2)]);return "M"+p.join(" L");}
var gat=function(n){return 345.5+0.7*Math.log10(n)*10+Math.pow(n/66,2.2)*95;};
var gcn=function(n){return 345+0.6*Math.log10(n)*10+Math.pow(n/76,2.2)*95;};
el(s,"path",{d:curve(function(n){return Math.min(gat(n),472);},1,66)+" L"+X(66)+" 472",fill:"none",stroke:"#ffa500","stroke-width":1.3});
el(s,"path",{d:curve(function(n){return Math.min(gcn(n),472);},1,76)+" L"+X(76)+" 472",fill:"none",stroke:"#008000","stroke-width":1.3});
el(s,"path",{d:curve(function(n){return 340.5+(n>2.5&&n<5?1.6*Math.sin((n-2.5)*2.5):0)+0.4*Math.sin(n*3);},1,100),fill:"none",stroke:"#0000ff","stroke-width":1.3});
el(s,"path",{d:curve(function(n){return 340.5+(n>2.5&&n<5?1.6*Math.sin((n-2.5)*2.5):0)+0.4*Math.sin(n*3.3);},1,100),fill:"none",stroke:"#ff0000","stroke-width":1.3});
el(s,"path",{d:curve(function(n){var y=340.5+(n>3?3:0)+(n>10?Math.min(6,(n-10)*0.7):0);return y;},1,100),fill:"none",stroke:"#0000ff","stroke-width":1.3,"stroke-dasharray":"4,2"});
el(s,"path",{d:curve(function(n){var y=340.5+(n>3?3:0)+(n>10?Math.min(36,Math.pow((n-10)/50,1.1)*36):0);return y;},1,100),fill:"none",stroke:"#ff0000","stroke-width":1.3,"stroke-dasharray":"4,2"});
var L=[["#ffa500",0,"GAT"],["#008000",0,"GCN"],["#ff0000",0,"GraphCON-GAT (α = 0)"],["#ff0000",1,"GraphCON-GAT (α = 0.5)"],["#0000ff",0,"GraphCON-GCN (α = 0)"],["#0000ff",1,"GraphCON-GCN (α = 0.5)"]];
L.forEach(function(l,i){var y=374+i*15.2;var a={x1:678,x2:698,y1:y,y2:y,stroke:l[0],"stroke-width":1.5};if(l[1])a["stroke-dasharray"]="4,2";el(s,"line",a);el(s,"text",{x:707,y:y+3,"font-size":8,"font-family":"Liberation Sans"},l[2]);});
})();

(function(){var s=document.getElementById("fig3");
var X=function(a){return 1338+a*79.5;},Y=function(v){return 634+(100-v)*1.525;};
el(s,"rect",{x:1330,y:628,width:176,height:147,fill:"#fff",stroke:"#333","stroke-width":0.7});
[0,0.5,1,1.5,2].forEach(function(a){el(s,"line",{x1:X(a),x2:X(a),y1:628,y2:775,stroke:"#ccc","stroke-width":0.5});el(s,"text",{x:X(a),y:782,"font-size":7,"font-family":"Liberation Serif","text-anchor":"middle"},a.toFixed(1));});
[20,40,60,80,100].forEach(function(v){el(s,"line",{x1:1330,x2:1506,y1:Y(v),y2:Y(v),stroke:"#ccc","stroke-width":0.5});el(s,"text",{x:1328,y:Y(v)+2.5,"font-size":7,"font-family":"Liberation Serif","text-anchor":"end"},v);});
el(s,"text",{x:1418,y:791,"font-size":7,"font-family":"Liberation Sans","text-anchor":"middle"},"Varying value of α or γ");
el(s,"text",{x:1311,y:700,"font-size":7,"font-family":"Liberation Sans","text-anchor":"middle",transform:"rotate(-90 1311 700)"},"Test accuracy in %");
var b=[[0,12],[0.04,17],[0.08,12],[0.12,97.5],[0.16,17],[0.2,97.5],[0.3,98.3],[0.6,98],[0.9,97.3],[1,97],[1.1,98],[1.5,98.4],[1.7,98],[1.8,97.6],[2,97.3]];
var o=[[0,97.3],[0.12,97.8],[0.2,97.4],[0.3,98.3],[0.6,98.3],[1.2,98.5],[1.6,98.2],[1.63,97],[1.67,95],[1.71,94],[1.75,22],[1.79,91],[1.83,93],[1.88,17],[1.92,21],[1.96,17],[2,16]];
function P(a){return "M"+a.map(function(p){return X(p[0]).toFixed(1)+" "+Y(p[1]).toFixed(1);}).join(" L");}
el(s,"path",{d:P(b),fill:"none",stroke:"#1f77b4","stroke-width":1});
el(s,"path",{d:P(o),fill:"none",stroke:"#ff7f0e","stroke-width":1});
el(s,"rect",{x:1376,y:741,width:84,height:27,fill:"#fff",stroke:"#ddd","stroke-width":0.5,rx:1.5});
el(s,"line",{x1:1380,x2:1396,y1:748,y2:748,stroke:"#1f77b4","stroke-width":1});
el(s,"line",{x1:1380,x2:1396,y1:760,y2:760,stroke:"#ff7f0e","stroke-width":1});
el(s,"text",{x:1403,y:751,"font-size":7,"font-family":"Liberation Sans"},"Fixed α = 1.0");
el(s,"text",{x:1403,y:763,"font-size":7,"font-family":"Liberation Sans"},"Fixed γ = 0.76");
})();
</script>
</body></html>
